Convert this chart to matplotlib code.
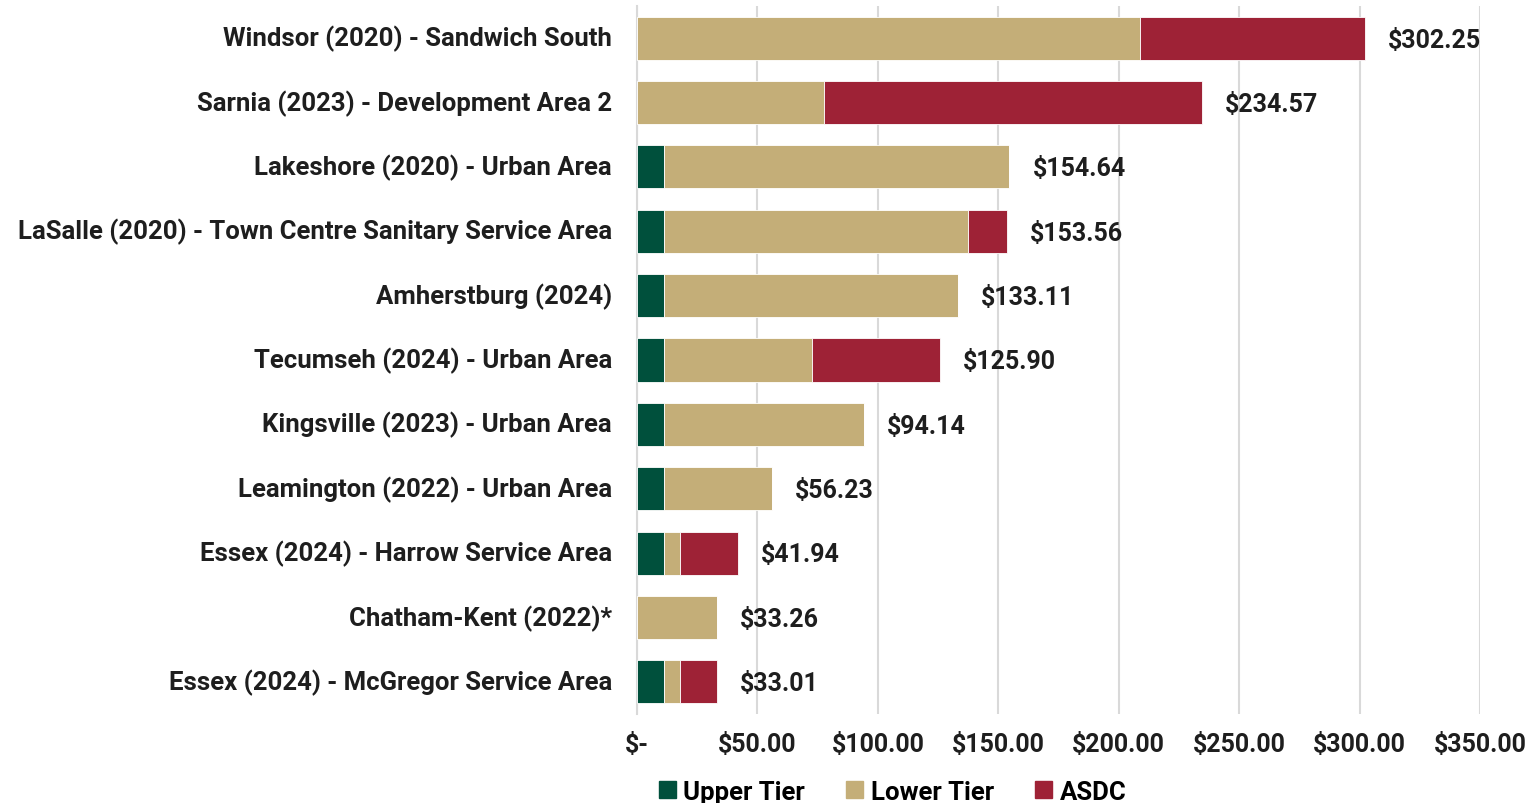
import matplotlib.pyplot as plt
import matplotlib.transforms as mtransforms
from matplotlib import font_manager
from matplotlib.patches import Patch

# Categories top to bottom
categories = [
    'Windsor (2020) - Sandwich South',
    'Sarnia (2023) - Development Area 2',
    'Lakeshore (2020) - Urban Area',
    'LaSalle (2020) - Town Centre Sanitary Service Area',
    'Amherstburg (2024)',
    'Tecumseh (2024) - Urban Area',
    'Kingsville (2023) - Urban Area',
    'Leamington (2022) - Urban Area',
    'Essex (2024) - Harrow Service Area',
    'Chatham-Kent (2022)*',
    'Essex (2024) - McGregor Service Area',
]
upper_tier = [0.0, 0.0, 11.2, 11.2, 11.2, 11.2, 11.2, 11.2, 11.2, 0.0, 11.2]
lower_tier = [209.0, 77.6, 143.44, 126.2, 121.91, 61.4, 82.94, 45.03, 6.65, 33.26, 6.65]
asdc = [93.25, 156.97, 0.0, 16.16, 0.0, 53.3, 0.0, 0.0, 24.09, 0.0, 15.16]
totals = [302.25, 234.57, 154.64, 153.56, 133.11, 125.90, 94.14, 56.23, 41.94, 33.26, 33.01]
x_ticks = [0, 50, 100, 150, 200, 250, 300, 350]
x_tick_labels = ['$-', '$50.00', '$100.00', '$150.00', '$200.00', '$250.00', '$300.00', '$350.00']

c_upper = '#00503c'
c_lower = '#c4ae78'
c_asdc = '#9e2236'

names = {f.name for f in font_manager.fontManager.ttflist}
fam = 'Liberation Sans Narrow' if 'Liberation Sans Narrow' in names else 'Roboto'
plt.rcParams['font.family'] = [fam, 'DejaVu Sans']
plt.rcParams['font.weight'] = 'bold'
fs = 18.5
fs_num = 18
txt_col = '#1e1e1e'

fig = plt.figure(figsize=(15.39, 8.04), dpi=100)
ax = fig.add_axes([0.4139, 0.1107, 0.5478, 0.8806])

y = list(range(len(categories)))
left2 = [u + l for u, l in zip(upper_tier, lower_tier)]
h = 0.67
ax.barh(y, upper_tier, height=h, color=c_upper, edgecolor='white', linewidth=0.6, zorder=3)
ax.barh(y, lower_tier, left=upper_tier, height=h, color=c_lower, edgecolor='white', linewidth=0.6, zorder=3)
ax.barh(y, asdc, left=left2, height=h, color=c_asdc, edgecolor='white', linewidth=0.6, zorder=3)

for yi, t in zip(y, totals):
    ax.annotate(f'${t:.2f}', xy=(t, yi), xytext=(16.5, -1), textcoords='offset points',
                ha='left', va='center', fontsize=fs_num, fontweight='bold', color=txt_col)

ax.set_ylim(len(categories) - 0.5, -0.5)
ax.set_xlim(0, 350)
ax.set_yticks(y)
ax.set_yticklabels(categories, fontsize=fs, fontweight='bold', color=txt_col)
ax.set_xticks(x_ticks)
ax.set_xticklabels(x_tick_labels, fontsize=fs_num, fontweight='bold', color=txt_col)
ax.tick_params(axis='y', length=0, pad=18)
ax.tick_params(axis='x', length=0, pad=13)
# nudge category labels up a little
shift = mtransforms.ScaledTranslation(0, 3 / 100, fig.dpi_scale_trans)
for lbl in ax.get_yticklabels():
    lbl.set_transform(lbl.get_transform() + shift)
ax.grid(axis='x', color='#d9d9d9', linewidth=1.5, zorder=0)
for s in ['top', 'right', 'bottom']:
    ax.spines[s].set_visible(False)
ax.spines['left'].set_color('#d9d9d9')
ax.spines['left'].set_linewidth(1.5)

handles = [Patch(color=c_upper, label='Upper Tier'),
           Patch(color=c_lower, label='Lower Tier'),
           Patch(color=c_asdc, label='ASDC')]
fig.legend(handles=handles, loc='center', bbox_to_anchor=(0.580, 0.014), ncol=3, frameon=False,
           prop={'size': fs, 'weight': 'bold'}, handlelength=0.65, handleheight=0.65,
           handletextpad=0.3, columnspacing=1.6)

fig.savefig('out.png', dpi=100)
